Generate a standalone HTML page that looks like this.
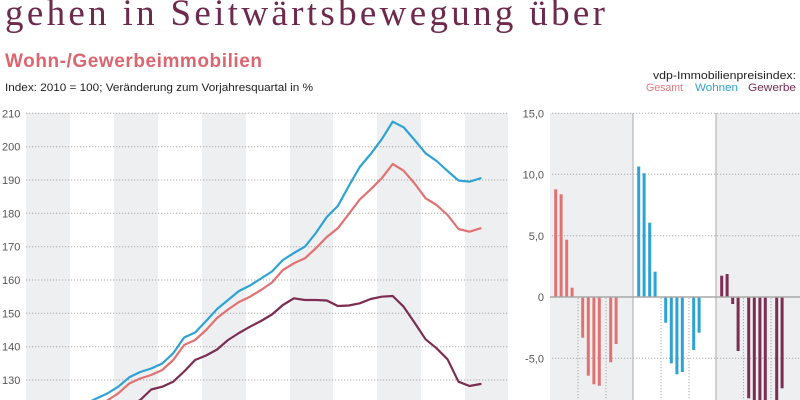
<!DOCTYPE html>
<html><head><meta charset="utf-8"><style>
html,body{margin:0;padding:0;background:#fff;}
svg{display:block;}
text{font-family:"Liberation Sans",sans-serif;}
</style></head><body>
<svg width="800" height="400" viewBox="0 0 800 400" xmlns="http://www.w3.org/2000/svg">
<rect x="0" y="0" width="800" height="400" fill="#fff"/>
<!-- title -->
<text x="5" y="25" font-size="37" fill="#6e2a4d" textLength="600" lengthAdjust="spacing" style="font-family:'Liberation Serif',serif">gehen in Seitwärtsbewegung über</text>
<text x="5" y="67" font-size="19" fill="#db6670" textLength="257" lengthAdjust="spacing" font-weight="bold" style="font-weight:600">Wohn-/Gewerbeimmobilien</text>
<text x="5" y="91" font-size="11" fill="#1e1e1e" textLength="308" lengthAdjust="spacingAndGlyphs">Index: 2010 = 100; Veränderung zum Vorjahresquartal in %</text>
<text x="796" y="79" font-size="11" fill="#1e1e1e" text-anchor="end" textLength="143" lengthAdjust="spacingAndGlyphs">vdp-Immobilienpreisindex:</text>
<text x="646" y="91" font-size="11" fill="#e07b80" textLength="37" lengthAdjust="spacingAndGlyphs">Gesamt</text>
<text x="695" y="91" font-size="11" fill="#2ea3d3" textLength="43" lengthAdjust="spacingAndGlyphs">Wohnen</text>
<text x="748" y="91" font-size="11" fill="#7b2d55" textLength="48" lengthAdjust="spacingAndGlyphs">Gewerbe</text>

<!-- left chart bands -->
<g fill="#eeeff1">
<rect x="26" y="113" width="44" height="287"/>
<rect x="114" y="113" width="44" height="287"/>
<rect x="202" y="113" width="44" height="287"/>
<rect x="290" y="113" width="43" height="287"/>
<rect x="377" y="113" width="44" height="287"/>
<rect x="465" y="113" width="43" height="287"/>
</g>
<g stroke="#aaaaaa" stroke-width="1" stroke-dasharray="1.2 1.8">
<line x1="26" x2="508" y1="113.3" y2="113.3"/>
<line x1="26" x2="508" y1="146.7" y2="146.7"/>
<line x1="26" x2="508" y1="180" y2="180"/>
<line x1="26" x2="508" y1="213.3" y2="213.3"/>
<line x1="26" x2="508" y1="246.7" y2="246.7"/>
<line x1="26" x2="508" y1="280" y2="280"/>
<line x1="26" x2="508" y1="313.3" y2="313.3"/>
<line x1="26" x2="508" y1="346.7" y2="346.7"/>
<line x1="26" x2="508" y1="380" y2="380"/>
</g>
<g font-size="11" fill="#555">
<text x="2" y="117.3">210</text>
<text x="2" y="150.7">200</text>
<text x="2" y="184">190</text>
<text x="2" y="217.3">180</text>
<text x="2" y="250.7">170</text>
<text x="2" y="284">160</text>
<text x="2" y="317.3">150</text>
<text x="2" y="350.7">140</text>
<text x="2" y="384">130</text>
</g>
<g fill="none" stroke-width="2.2" stroke-linejoin="round" stroke-linecap="round">
<path stroke="#e07272" d="M96.35,407 L107.3,400.5 L118.3,393.3 L129.3,383.5 L140.25,378.5 L151.2,375 L162.2,370 L173.2,360 L184.15,345 L195.1,340 L206.1,330 L217.1,318 L228.05,309.5 L239,302 L250,296.7 L261,290 L271.95,282.5 L282.9,270 L293.9,263.3 L304.9,258.3 L315.85,248.3 L326.8,237 L337.8,228.3 L348.8,214 L359.75,199.5 L370.7,189.3 L381.7,178.3 L392.7,164 L403.65,170.7 L414.6,183.5 L425.6,198.3 L436.6,205 L447.55,215 L458.5,229 L469.5,231.7 L480.5,228.3"/>
<path stroke="#2ea3d3" d="M85.4,404 L96.35,398.5 L107.3,393.5 L118.3,386.7 L129.3,377.3 L140.25,372 L151.2,368.5 L162.2,363.5 L173.2,353.3 L184.15,337.5 L195.1,332.5 L206.1,321 L217.1,309 L228.05,300 L239,291 L250,285.5 L261,278.5 L271.95,271.5 L282.9,260 L293.9,253 L304.9,246.7 L315.85,233 L326.8,217 L337.8,206 L348.8,186 L359.75,167 L370.7,154 L381.7,139.3 L392.7,121.7 L403.65,127.3 L414.6,140 L425.6,153.3 L436.6,161 L447.55,171 L458.5,180.5 L469.5,181.7 L480.5,178.3"/>
<path stroke="#7b2d52" d="M129.3,406 L140.25,400 L151.2,389.5 L162.2,386.7 L173.2,381.7 L184.15,371.5 L195.1,360 L206.1,355.5 L217.1,349.5 L228.05,340 L239,333 L250,326.7 L261,321 L271.95,314.5 L282.9,305 L293.9,298.3 L304.9,300 L315.85,300 L326.8,300.5 L337.8,306 L348.8,305.5 L359.75,303.3 L370.7,299 L381.7,296.7 L392.7,296 L403.65,306.7 L414.6,322.7 L425.6,339.3 L436.6,348.3 L447.55,359.3 L458.5,381.7 L469.5,386 L480.5,384"/>
</g>

<!-- right chart -->
<g fill="#eeeff1">
<rect x="550" y="113" width="83" height="287"/>
<rect x="716" y="113" width="84" height="287"/>
</g>
<g stroke="#aaaaaa" stroke-width="1" stroke-dasharray="1.2 1.8">
<line x1="552" x2="800" y1="113.3" y2="113.3"/>
<line x1="552" x2="800" y1="174.3" y2="174.3"/>
<line x1="552" x2="800" y1="235.7" y2="235.7"/>
<line x1="552" x2="800" y1="358.3" y2="358.3"/>
<line x1="578" x2="578" y1="298" y2="400"/>
<line x1="606" x2="606" y1="298" y2="400"/>
<line x1="661" x2="661" y1="298" y2="400"/>
<line x1="689" x2="689" y1="298" y2="400"/>
<line x1="743.5" x2="743.5" y1="298" y2="400"/>
<line x1="771" x2="771" y1="298" y2="400"/>
</g>
<g stroke="#a8a8a8" stroke-width="1">
<line x1="633" x2="633" y1="113" y2="400"/>
<line x1="716" x2="716" y1="113" y2="400"/>
</g>
<g font-size="11" fill="#555" text-anchor="end">
<text x="544" y="117.3">15,0</text>
<text x="544" y="178.5">10,0</text>
<text x="544" y="240">5,0</text>
<text x="544" y="301">0</text>
<text x="544" y="362.5">-5,0</text>
</g>
<!-- Gesamt bars -->
<g fill="#e07272">
<rect x="554.2" y="189.3" width="3" height="107.7"/>
<rect x="559.6" y="194.3" width="3" height="102.7"/>
<rect x="565.2" y="239.7" width="3" height="57.3"/>
<rect x="570.6" y="287.7" width="3" height="9.3"/>
<rect x="581.2" y="297" width="3" height="40.7"/>
<rect x="586.8" y="297" width="3" height="78.7"/>
<rect x="592.4" y="297" width="3" height="87.3"/>
<rect x="597.8" y="297" width="3" height="88.7"/>
<rect x="609.2" y="297" width="3" height="65.3"/>
<rect x="614.6" y="297" width="3" height="47"/>
</g>
<!-- Wohnen bars -->
<g fill="#2ea3d3">
<rect x="637.2" y="166.5" width="3" height="130.5"/>
<rect x="642.6" y="173.3" width="3" height="123.7"/>
<rect x="648.2" y="222.7" width="3" height="74.3"/>
<rect x="653.6" y="271.7" width="3" height="25.3"/>
<rect x="664.2" y="297" width="3" height="25.7"/>
<rect x="669.8" y="297" width="3" height="66.3"/>
<rect x="675.4" y="297" width="3" height="77.3"/>
<rect x="680.8" y="297" width="3" height="75"/>
<rect x="692.2" y="297" width="3" height="53"/>
<rect x="697.6" y="297" width="3" height="35.7"/>
</g>
<!-- Gewerbe bars -->
<g fill="#7b2d52">
<rect x="720.2" y="275.7" width="3" height="21.3"/>
<rect x="725.6" y="274" width="3" height="23"/>
<rect x="731.2" y="297" width="3" height="7"/>
<rect x="736.6" y="297" width="3" height="54"/>
<rect x="747.2" y="297" width="3" height="101.3"/>
<rect x="752.8" y="297" width="3" height="105"/>
<rect x="758.4" y="297" width="3" height="105"/>
<rect x="763.8" y="297" width="3" height="104"/>
<rect x="775.2" y="297" width="3" height="105"/>
<rect x="780.6" y="297" width="3" height="91.3"/>
</g>
<line x1="550" x2="800" y1="297" y2="297" stroke="#a8a8a8" stroke-width="1.5"/>
</svg>
</body></html>
